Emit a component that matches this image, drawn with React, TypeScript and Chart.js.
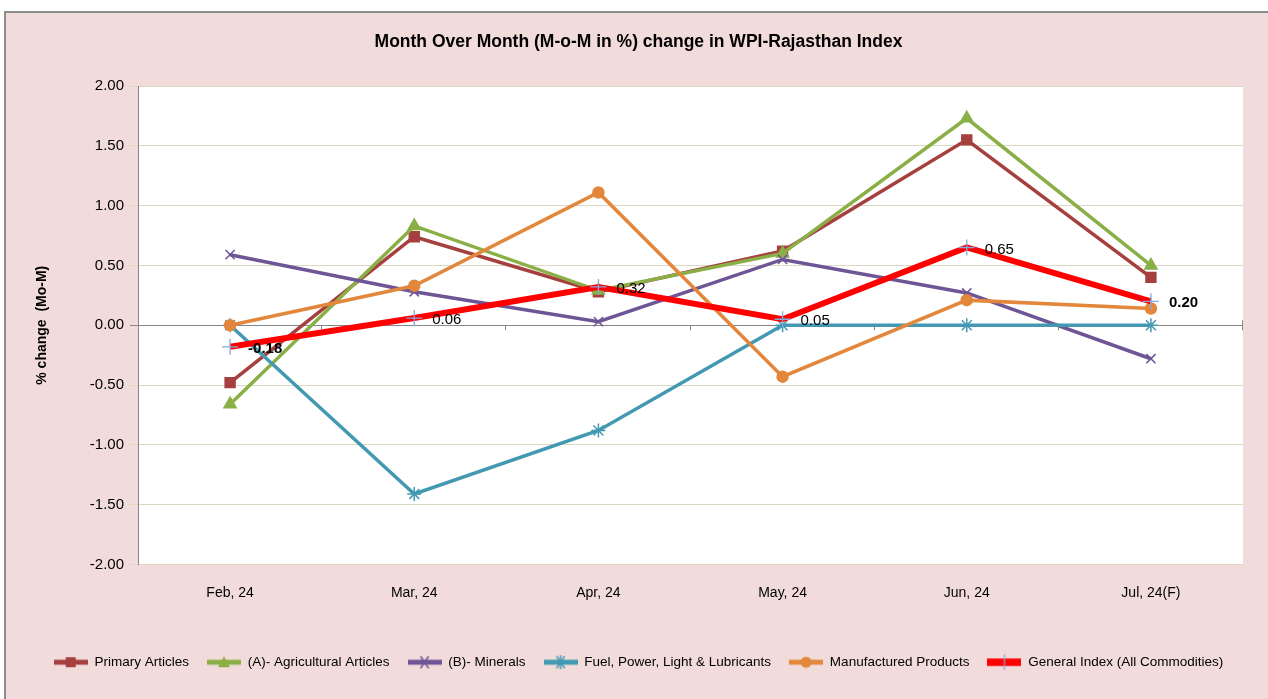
import React, { useEffect, useRef } from "react";
import { Chart, registerables } from "chart.js";
Chart.register(...registerables);

const TITLE = "Month Over Month (M-o-M in %) change in WPI-Rajasthan Index";
const Y_TITLE = "% change  (Mo-M)";
const categories = ["Feb, 24", "Mar, 24", "Apr, 24", "May, 24", "Jun, 24", "Jul, 24(F)"];
const seriesNames = [
  "Primary Articles",
  "(A)- Agricultural Articles",
  "(B)- Minerals",
  "Fuel, Power, Light & Lubricants",
  "Manufactured Products",
  "General Index (All Commodities)",
];
const primaryArticles = [-0.48, 0.74, 0.28, 0.62, 1.55, 0.4];
const agriculturalArticles = [-0.66, 0.83, 0.29, 0.6, 1.73, 0.5];
const minerals = [0.59, 0.28, 0.03, 0.55, 0.27, -0.28];
const fuelPower = [0.0, -1.41, -0.88, 0.0, 0.0, 0.0];
const manufactured = [0.0, 0.33, 1.11, -0.43, 0.21, 0.14];
const generalIndex = [-0.18, 0.06, 0.32, 0.05, 0.65, 0.2];
const generalLabels = ["-0.18", "0.06", "0.32", "0.05", "0.65", "0.20"];
const generalLabelBold = [true, false, false, false, false, true];
const yMin = -2;
const yMax = 2;
const yStep = 0.5;

const FONT = "'Liberation Sans', Arial, sans-serif";

type Style = {
  color: string;
  width: number;
  point: string;
  pointColor: string;
  radius: number;
};
const styles: Style[] = [
  { color: "#A5403E", width: 3.5, point: "rect", pointColor: "#A5403E", radius: 7 },
  { color: "#8BAF47", width: 3.5, point: "triangle", pointColor: "#8BAF47", radius: 7 },
  { color: "#6E5596", width: 3.5, point: "crossRot", pointColor: "#6E5596", radius: 6.5 },
  { color: "#4299B1", width: 3.5, point: "star", pointColor: "#4299B1", radius: 7 },
  { color: "#E2873B", width: 3.5, point: "circle", pointColor: "#E2873B", radius: 5.5 },
  { color: "#FF0000", width: 6, point: "cross", pointColor: "#84A9DC", radius: 8 },
];

function makeIcon(s: Style): HTMLCanvasElement {
  const c = document.createElement("canvas");
  c.width = 34;
  c.height = 16;
  const g = c.getContext("2d")!;
  g.strokeStyle = s.color;
  g.lineWidth = s.width + 1.5;
  g.beginPath();
  g.moveTo(0, 8);
  g.lineTo(34, 8);
  g.stroke();
  const cx = 17, cy = 8, r = 6;
  g.fillStyle = s.pointColor;
  g.strokeStyle = s.pointColor;
  g.lineWidth = 1.5;
  g.beginPath();
  if (s.point === "rect") {
    g.fillRect(cx - 5, cy - 5, 10, 10);
  } else if (s.point === "triangle") {
    g.moveTo(cx, cy - r);
    g.lineTo(cx + r, cy + r - 1);
    g.lineTo(cx - r, cy + r - 1);
    g.closePath();
    g.fill();
  } else if (s.point === "circle") {
    g.arc(cx, cy, 5.5, 0, Math.PI * 2);
    g.fill();
  } else if (s.point === "crossRot") {
    g.moveTo(cx - 4, cy - 6);
    g.lineTo(cx + 4, cy + 6);
    g.moveTo(cx + 4, cy - 6);
    g.lineTo(cx - 4, cy + 6);
    g.stroke();
  } else if (s.point === "star") {
    g.moveTo(cx, cy - 7);
    g.lineTo(cx, cy + 7);
    g.moveTo(cx - 4, cy - 6);
    g.lineTo(cx + 4, cy + 6);
    g.moveTo(cx + 4, cy - 6);
    g.lineTo(cx - 4, cy + 6);
    g.stroke();
  } else if (s.point === "cross") {
    g.lineWidth = 1.2;
    g.moveTo(cx, cy - 8);
    g.lineTo(cx, cy + 8);
    g.stroke();
  }
  return c;
}

const plotBg = {
  id: "plotBg",
  beforeDraw(chart: any) {
    const { ctx, chartArea } = chart;
    ctx.save();
    ctx.fillStyle = "#FFFFFF";
    ctx.fillRect(chartArea.left, chartArea.top, chartArea.right - chartArea.left, chartArea.bottom - chartArea.top);
    ctx.restore();
  },
};

const zeroTicks = {
  id: "zeroTicks",
  afterDraw(chart: any) {
    const { ctx } = chart;
    const x = chart.scales.x;
    const y = chart.scales.y;
    const y0 = y.getPixelForValue(0);
    ctx.save();
    ctx.strokeStyle = "#868686";
    ctx.lineWidth = 1;
    const n = categories.length;
    const step = (x.getPixelForValue(n - 1) - x.getPixelForValue(0)) / (n - 1);
    for (let i = 0; i < n; i++) {
      const px = Math.round(x.getPixelForValue(i) + step / 2) - 0.5;
      ctx.beginPath();
      ctx.moveTo(px, y0);
      ctx.lineTo(px, y0 + 5);
      if (i === n - 1) {
        ctx.moveTo(px, y0 - 5);
        ctx.lineTo(px, y0);
      }
      ctx.stroke();
    }
    ctx.restore();
  },
};

const dataLabels = {
  id: "dataLabels",
  afterDatasetsDraw(chart: any) {
    const { ctx } = chart;
    const meta = chart.getDatasetMeta(5);
    ctx.save();
    ctx.fillStyle = "#000";
    ctx.textAlign = "left";
    ctx.textBaseline = "middle";
    meta.data.forEach((pt: any, i: number) => {
      ctx.font = (generalLabelBold[i] ? "bold " : "") + "15px " + FONT;
      ctx.fillText(generalLabels[i], pt.x + 18, pt.y + 2);
    });
    ctx.restore();
  },
};

export default function App() {
  const ref = useRef<HTMLCanvasElement>(null);
  useEffect(() => {
    const canvas = ref.current!;
    const icons = styles.map(makeIcon);
    const allData = [primaryArticles, agriculturalArticles, minerals, fuelPower, manufactured, generalIndex];
    const chart = new Chart(canvas, {
      type: "line",
      data: {
        labels: categories,
        datasets: allData.map((d, i) => ({
          label: seriesNames[i],
          data: d,
          borderColor: styles[i].color,
          backgroundColor: styles[i].pointColor,
          borderWidth: styles[i].width,
          pointStyle: styles[i].point as any,
          pointRadius: styles[i].radius,
          pointBorderColor: styles[i].pointColor,
          pointBackgroundColor: styles[i].pointColor,
          pointBorderWidth: i === 5 ? 1.3 : 1.5,
          tension: 0,
          fill: false,
          order: 6 - i,
        })),
      },
      options: {
        responsive: false,
        animation: false,
        devicePixelRatio: 1,
        layout: { padding: { left: 28, right: 25, top: 0, bottom: 20 } },
        plugins: {
          title: {
            display: true,
            text: TITLE,
            color: "#000",
            font: { family: FONT, size: 17.5, weight: "bold" },
            padding: { top: 19, bottom: 33 },
          },
          legend: {
            position: "bottom",
            labels: {
              usePointStyle: true,
              pointStyleWidth: 34,
              padding: 18,
              color: "#000",
              font: { family: FONT, size: 13.5 },
              sort: (a: any, b: any) => a.datasetIndex - b.datasetIndex,
              generateLabels: (ch: any) => {
                const items = (Chart.defaults.plugins.legend.labels as any).generateLabels(ch);
                items.forEach((it: any) => {
                  it.pointStyle = icons[it.datasetIndex];
                });
                return items;
              },
            },
          },
          tooltip: { enabled: false },
        },
        scales: {
          x: {
            offset: true,
            grid: { display: false, drawTicks: false },
            border: { display: false },
            ticks: { padding: 20, color: "#000", font: { family: FONT, size: 14 } },
            afterFit: (s: any) => {
              s.height = 73;
            },
          },
          y: {
            min: yMin,
            max: yMax,
            ticks: {
              stepSize: yStep,
              padding: 6,
              color: "#000",
              font: { family: FONT, size: 15 },
              callback: (v: any) => Number(v).toFixed(2),
            },
            grid: {
              color: (c: any) => (c.tick && c.tick.value === 0 ? "#868686" : "#DCD8C2"),
              tickLength: 8,
              lineWidth: 1,
            },
            border: { display: true, color: "#868686" },
            title: {
              display: true,
              text: Y_TITLE,
              color: "#000",
              font: { family: FONT, size: 14, weight: "bold" },
              padding: { top: 0, bottom: 3 },
            },
            afterFit: (s: any) => {
              s.width = 104;
            },
          },
        },
      },
      plugins: [plotBg, zeroTicks, dataLabels],
    } as any);
    return () => chart.destroy();
  }, []);
  return (
    <div style={{ position: "absolute", left: 0, top: 0, width: 1268, height: 699, background: "#fff", overflow: "hidden" }}>
      <div
        style={{
          position: "absolute",
          left: 4,
          top: 11,
          width: 1264,
          height: 688,
          background: "#F2DCDB",
          borderLeft: "2px solid #8C8C8C",
          borderTop: "2px solid #8C8C8C",
          boxSizing: "border-box",
        }}
      >
        <canvas ref={ref} width={1262} height={686} style={{ display: "block", width: 1262, height: 686 }} />
      </div>
    </div>
  );
}
